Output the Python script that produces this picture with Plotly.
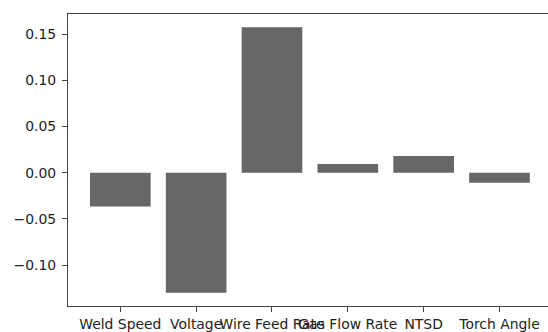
import plotly.graph_objects as go

categories = ["Weld Speed", "Voltage", "Wire Feed Rate", "Gas Flow Rate", "NTSD", "Torch Angle"]
values = [-0.0366, -0.1298, 0.1573, 0.0094, 0.0180, -0.0108]
ytick_vals = [-0.10, -0.05, 0.00, 0.05, 0.10, 0.15]
ytick_text = ["\u22120.10", "\u22120.05", "0.00", "0.05", "0.10", "0.15"]

font = dict(family="DejaVu Sans", size=13.9, color="#222222")

fig = go.Figure(
    go.Bar(
        x=categories,
        y=values,
        width=0.8,
        marker=dict(color="#676767", line=dict(width=0)),
    )
)

fig.update_layout(
    width=548,
    height=332,
    margin=dict(l=68, r=0, t=14, b=24, pad=0),
    paper_bgcolor="white",
    plot_bgcolor="white",
    showlegend=False,
    font=font,
)

fig.update_xaxes(
    type="category",
    range=[-0.69, 5.64],
    showgrid=False,
    zeroline=False,
    showline=True,
    linecolor="#444444",
    linewidth=1.1,
    mirror=True,
    ticks="outside",
    ticklen=5,
    tickwidth=1.1,
    tickcolor="#444444",
    tickangle=0,
    tickfont=font,
)

fig.update_yaxes(
    range=[-0.1442, 0.1717],
    tickvals=ytick_vals,
    ticktext=ytick_text,
    showgrid=False,
    zeroline=False,
    showline=True,
    linecolor="#444444",
    linewidth=1.1,
    ticks="outside",
    ticklen=5,
    tickwidth=1.1,
    tickcolor="#444444",
    tickfont=font,
    ticklabelstandoff=3,
)

fig.write_html("out.html")
